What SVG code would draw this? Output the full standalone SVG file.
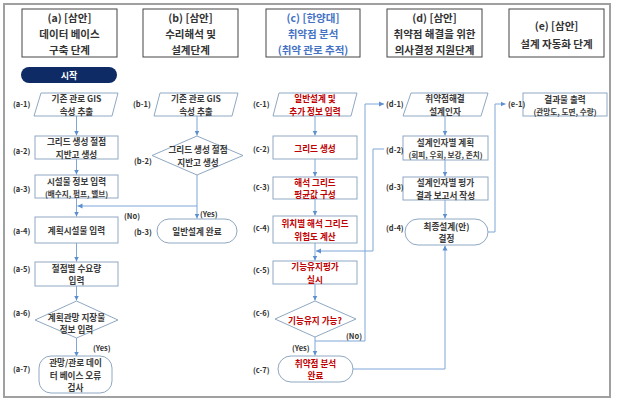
<svg xmlns="http://www.w3.org/2000/svg" width="620" height="404" viewBox="0 0 620 404">
<defs>
<marker id="ah" markerWidth="6" markerHeight="6" refX="5" refY="3" orient="auto" markerUnits="userSpaceOnUse">
<path d="M0,0.5 L5,3 L0,5.5 Z" fill="#5b8fd0"/>
</marker>
</defs>
<style>
text{font-family:"Noto Sans CJK KR","Noto Sans",sans-serif;dominant-baseline:central;text-anchor:middle;fill:#333}
.hd{font-size:10.5px;font-weight:700}
.hdb{fill:#4472c4}
.t{font-size:8.6px;font-weight:700;fill:#3a3a3a}
.s{font-size:7.6px}
.r{fill:#c00000}
.lb{font-size:7.5px;font-weight:700;text-anchor:start}
.hbox{fill:#fff;stroke:#444;stroke-width:1}
.box{fill:#fff;stroke:#8fa8c2;stroke-width:1}
.cn{fill:none;stroke:#7ea6d8;stroke-width:1}
</style>
<rect x="4" y="4" width="606" height="393" fill="#fff" stroke="#a0a0a0" stroke-width="2"/>

<g id="header-a"><rect class="hbox" x="22" y="9" width="95" height="48"/>
<text class="hd" x="69.5" y="17">(a) [삼안]<tspan x="69.5" dy="16">데이터 베이스</tspan><tspan x="69.5" dy="16">구축 단계</tspan></text></g>
<g id="header-b"><rect class="hbox" x="143" y="9" width="95" height="48"/>
<text class="hd" x="190.5" y="17">(b) [삼안]<tspan x="190.5" dy="16">수리해석 및</tspan><tspan x="190.5" dy="16">설계단계</tspan></text></g>
<g id="header-c"><rect class="hbox" x="266" y="9" width="94" height="48"/>
<text class="hd hdb" x="313" y="17">(c) [한양대]<tspan x="313" dy="16">취약점 분석</tspan><tspan x="313" dy="16">(취약 관로 추적)</tspan></text></g>
<g id="header-d"><rect class="hbox" x="387" y="9" width="95" height="48"/>
<text class="hd" x="434.5" y="17">(d) [삼안]<tspan x="434.5" dy="16">취약점 해결을 위한</tspan><tspan x="434.5" dy="16">의사결정 지원단계</tspan></text></g>
<g id="header-e"><rect class="hbox" x="509" y="9" width="95" height="48"/>
<text class="hd" x="556.5" y="25">(e) [삼안]<tspan x="556.5" dy="18">설계 자동화 단계</tspan></text></g>

<g id="start"><rect x="21" y="67" width="96" height="16" rx="8" fill="#0f2b66"/>
<text class="t" x="69" y="75" style="fill:#fff;font-size:9px">시작</text></g>

<g id="connectors">
<path class="cn" d="M76.5,116 V135.5" marker-end="url(#ah)"/>
<path class="cn" d="M76.5,159 V174.5" marker-end="url(#ah)"/>
<path class="cn" d="M76.5,198 V216.5" marker-end="url(#ah)"/>
<path class="cn" d="M76.5,243 V261.5" marker-end="url(#ah)"/>
<path class="cn" d="M76.5,286 V300.5" marker-end="url(#ah)"/>
<path class="cn" d="M76.5,338 V356.5" marker-end="url(#ah)"/>
<path class="cn" d="M197,116 V135.5" marker-end="url(#ah)"/>
<path class="cn" d="M197,175 V218.5" marker-end="url(#ah)"/>
<path class="cn" d="M197,206 H77.5" marker-end="url(#ah)"/>
<path class="cn" d="M315,116 V135.5" marker-end="url(#ah)"/>
<path class="cn" d="M315,159 V176.5" marker-end="url(#ah)"/>
<path class="cn" d="M315,199 V215.5" marker-end="url(#ah)"/>
<path class="cn" d="M315,243 V260.5" marker-end="url(#ah)"/>
<path class="cn" d="M315,284 V300.5" marker-end="url(#ah)"/>
<path class="cn" d="M315,337 V355.5" marker-end="url(#ah)"/>
<path class="cn" d="M315,341 H365 V104 H384" marker-end="url(#ah)"/>
<path class="cn" d="M384,149 H373 V251 H316" marker-end="url(#ah)"/>
<path class="cn" d="M353,369 H445 V245.5" marker-end="url(#ah)"/>
<path class="cn" d="M445,116 V135.5" marker-end="url(#ah)"/>
<path class="cn" d="M445,160 V176.5" marker-end="url(#ah)"/>
<path class="cn" d="M445,200 V218.5" marker-end="url(#ah)"/>
<path class="cn" d="M488,232 H495 V104 H505.5" marker-end="url(#ah)"/>
<text class="lb" x="124" y="215">(No)</text>
<text class="lb" x="200" y="213">(Yes)</text>
<text class="lb" x="93" y="347">(Yes)</text>
<text class="lb" x="292" y="347">(Yes)</text>
<text class="lb" x="346" y="335">(No)</text>
</g>

<g id="a-1"><polygon class="box" points="41,93 118,93 112,116 34,116"/><text class="lb" x="13" y="103">(a-1)</text>
<text class="t" x="76.5" y="98.25">기존 관로 GIS<tspan x="76.5" dy="12.5">속성 추출</tspan></text></g>
<g id="a-2"><rect class="box" x="35" y="136" width="83" height="23"/><text class="lb" x="13" y="150">(a-2)</text>
<text class="t" x="76.5" y="141.25">그리드 생성 절점<tspan x="76.5" dy="12.5">지반고 생성</tspan></text></g>
<g id="a-3"><rect class="box" x="35" y="175" width="83" height="23"/><text class="lb" x="13" y="188">(a-3)</text>
<text class="t" x="76.5" y="180.5">시설물 정보 입력<tspan class="s" x="76.5" dy="12">(배수지, 펌프, 밸브)</tspan></text></g>
<g id="a-4"><rect class="box" x="35" y="217" width="83" height="26"/><text class="lb" x="13" y="230">(a-4)</text>
<text class="t" x="76.5" y="230">계획시설물 입력</text></g>
<g id="a-5"><rect class="box" x="35" y="262" width="83" height="24"/><text class="lb" x="13" y="268">(a-5)</text>
<text class="t" x="76.5" y="267.75">절점별 수요량<tspan x="76.5" dy="12.5">입력</tspan></text></g>
<g id="a-6"><polygon class="box" points="76.5,301 118,320 76.5,338 35,320"/><text class="lb" x="13" y="312">(a-6)</text>
<text class="t" x="76.5" y="316.5">계획관망 지장물<tspan x="76.5" dy="12.5">정보 입력</tspan></text></g>
<g id="a-7"><rect class="box" x="39" y="356" width="73" height="37" rx="12"/><text class="lb" x="13" y="368">(a-7)</text>
<text class="t" x="75.5" y="362">관망/관로 데이<tspan x="75.5" dy="12.5">터 베이스 오류</tspan><tspan x="75.5" dy="12.5">검사</tspan></text></g>

<g id="b-1"><polygon class="box" points="160,93 238,93 232,116 154,116"/><text class="lb" x="133" y="103">(b-1)</text>
<text class="t" x="196" y="98.25">기존 관로 GIS<tspan x="196" dy="12.5">속성 추출</tspan></text></g>
<g id="b-2"><polygon class="box" points="197,136 243,155.5 197,175 152,155.5"/><text class="lb" x="134" y="160">(b-2)</text>
<text class="t" x="198" y="149.25">그리드 생성 절점<tspan x="198" dy="12.5">지반고 생성</tspan></text></g>
<g id="b-3"><rect class="box" x="157" y="219" width="80" height="24" rx="12"/><text class="lb" x="134" y="231">(b-3)</text>
<text class="t" x="197" y="231">일반설계 완료</text></g>

<g id="c-1"><polygon class="box" points="279,93 357,93 351,116 273,116"/><text class="lb" x="253" y="103">(c-1)</text>
<text class="t r" x="315" y="98.25">일반설계 및<tspan x="315" dy="12.5">추가 정보 입력</tspan></text></g>
<g id="c-2"><rect class="box" x="273" y="136" width="84" height="23"/><text class="lb" x="253" y="148">(c-2)</text>
<text class="t r" x="315" y="147.5">그리드 생성</text></g>
<g id="c-3"><rect class="box" x="273" y="177" width="84" height="22"/><text class="lb" x="253" y="186">(c-3)</text>
<text class="t r" x="315" y="181.75">해석 그리드<tspan x="315" dy="12.5">평균값 구성</tspan></text></g>
<g id="c-4"><rect class="box" x="273" y="216" width="84" height="27"/><text class="lb" x="253" y="227">(c-4)</text>
<text class="t r" x="315" y="223.25">위치별 해석 그리드<tspan x="315" dy="12.5">위험도 계산</tspan></text></g>
<g id="c-5"><rect class="box" x="273" y="261" width="84" height="23"/><text class="lb" x="253" y="269">(c-5)</text>
<text class="t r" x="315" y="266.25">기능유지평가<tspan x="315" dy="12.5">실시</tspan></text></g>
<g id="c-6"><polygon class="box" points="315,301 356,319 315,337 275,319"/><text class="lb" x="253" y="312">(c-6)</text>
<text class="t r" x="315" y="320">기능유지 가능?</text></g>
<g id="c-7"><rect class="box" x="278" y="356" width="75" height="26" rx="13"/><text class="lb" x="253" y="369">(c-7)</text>
<text class="t r" x="315.5" y="362.75">취약점 분석<tspan x="315.5" dy="12.5">완료</tspan></text></g>

<g id="d-1"><polygon class="box" points="411,93 488,93 481,116 403,116"/><text class="lb" x="386" y="103">(d-1)</text>
<text class="t" x="445" y="98.25">취약점해결<tspan x="445" dy="12.5">설계인자</tspan></text></g>
<g id="d-2"><rect class="box" x="403" y="136" width="85" height="24"/><text class="lb" x="386" y="149">(d-2)</text>
<text class="t" x="445.5" y="142">설계인자별 계획<tspan class="s" x="445.5" dy="12">(회피, 우회, 보강, 존치)</tspan></text></g>
<g id="d-3"><rect class="box" x="403" y="177" width="85" height="23"/><text class="lb" x="386" y="186">(d-3)</text>
<text class="t" x="445.5" y="182.25">설계인자별 평가<tspan x="445.5" dy="12.5">결과 보고서 작성</tspan></text></g>
<g id="d-4"><rect class="box" x="405" y="219" width="83" height="26" rx="13"/><text class="lb" x="386" y="227">(d-4)</text>
<text class="t" x="446.5" y="225.75">최종설계(안)<tspan x="446.5" dy="12.5">결정</tspan></text></g>

<g id="e-1"><rect class="box" x="523" y="93" width="84" height="23"/><text class="lb" x="508" y="103">(e-1)</text>
<text class="t" x="565" y="98.5">결과물 출력<tspan class="s" x="565" dy="12">(관망도, 도면, 수량)</tspan></text></g>
</svg>
